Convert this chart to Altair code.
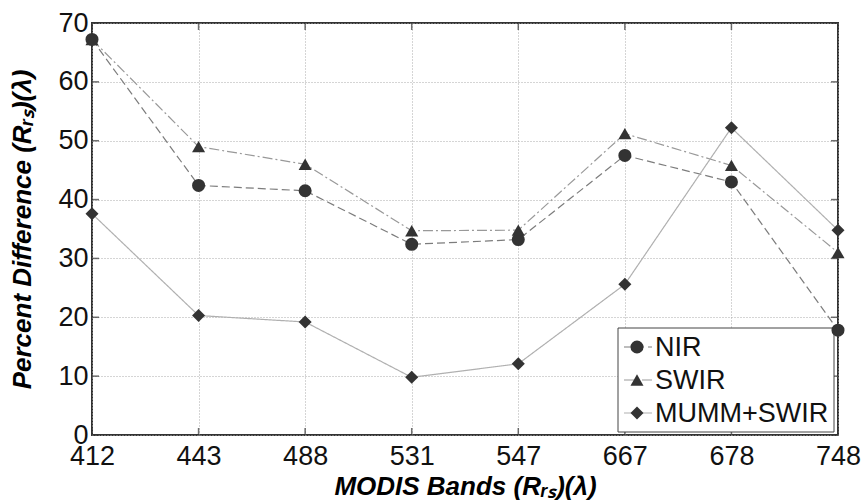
import altair as alt
import pandas as pd

bands = ["412", "443", "488", "531", "547", "667", "678", "748"]
nir = [67.2, 42.4, 41.5, 32.4, 33.2, 47.5, 43.0, 17.8]
swir = [67.2, 49.0, 46.0, 34.7, 34.8, 51.2, 45.8, 31.0]
mumm = [37.6, 20.3, 19.2, 9.8, 12.1, 25.6, 52.2, 34.8]
series_names = ["NIR", "SWIR", "MUMM+SWIR"]
y_ticks = [0, 10, 20, 30, 40, 50, 60, 70]

line_colors = ["#7c7c7c", "#999999", "#b0b0b0"]
line_dashes = [[8, 4], [10, 3, 2, 3], [1, 0]]
shapes = ["circle", "triangle-up", "diamond"]

rows = []
for name, vals in zip(series_names, [nir, swir, mumm]):
    for b, v in zip(bands, vals):
        rows.append({"band": b, "value": v, "series": name})
df = pd.DataFrame(rows)

FONT = "Liberation Sans"
W, H = 746, 412

x_enc = alt.X(
    "band:O",
    sort=bands,
    scale=alt.Scale(type="point", padding=0, domain=bands),
    axis=alt.Axis(
        title="MODIS Bands (Rᵣₛ)(λ)",
        labelAngle=0,
        labelFont=FONT,
        labelFontSize=27,
        labelColor="#111",
        labelPadding=8,
        ticks=False,
        domain=False,
        grid=True,
        gridColor="#aaa",
        gridDash=[1, 2],
        gridWidth=1,
        titleFont=FONT,
        titleFontSize=26,
        titleFontWeight="bold",
        titleFontStyle="italic",
        titleColor="#000",
        titlePadding=4,
    ),
)
y_enc = alt.Y(
    "value:Q",
    scale=alt.Scale(domain=[0, 70], nice=False),
    axis=alt.Axis(
        title="Percent Difference (Rᵣₛ)(λ)",
        values=y_ticks,
        labelFont=FONT,
        labelFontSize=27,
        labelColor="#111",
        labelPadding=4,
        ticks=False,
        domain=False,
        grid=True,
        gridColor="#aaa",
        gridDash=[1, 2],
        gridWidth=1,
        titleFont=FONT,
        titleFontSize=26,
        titleFontWeight="bold",
        titleFontStyle="italic",
        titleColor="#000",
        titlePadding=22,
    ),
)

lines = (
    alt.Chart(df)
    .transform_calculate(line_series="datum.series")
    .mark_line(strokeWidth=1.2)
    .encode(
        x=x_enc,
        y=y_enc,
        color=alt.Color(
            "line_series:N",
            scale=alt.Scale(domain=series_names, range=line_colors),
            legend=None,
        ),
        strokeDash=alt.StrokeDash(
            "line_series:N",
            scale=alt.Scale(domain=series_names, range=line_dashes),
            legend=None,
        ),
    )
)

points = alt.Chart(df).mark_point(filled=True, color="#333", opacity=1, size=170).encode(
    x=alt.X("band:O", sort=bands),
    y="value:Q",
    shape=alt.Shape(
        "series:N",
        scale=alt.Scale(domain=series_names, range=shapes),
        legend=None,
    ),
)

xt = pd.DataFrame({"band": bands})
yt = pd.DataFrame({"value": y_ticks})

tick_bottom = alt.Chart(xt).mark_tick(orient="vertical", size=7, thickness=1.5, color="#333", yOffset=-3.5).encode(
    x=alt.X("band:O", sort=bands), y=alt.datum(0)
)
tick_top = alt.Chart(xt).mark_tick(orient="vertical", size=7, thickness=1.5, color="#333", yOffset=3.5).encode(
    x=alt.X("band:O", sort=bands), y=alt.datum(70)
)
tick_left = alt.Chart(yt).mark_tick(orient="horizontal", size=7, thickness=1.5, color="#333", xOffset=3.5).encode(
    y="value:Q", x=alt.datum("412")
)
tick_right = alt.Chart(yt).mark_tick(orient="horizontal", size=7, thickness=1.5, color="#333", xOffset=-3.5).encode(
    y="value:Q", x=alt.datum("748")
)

# legend (drawn as layers, positioned in pixels inside the plot area)
leg_df = pd.DataFrame({"series": series_names})
legend_layers = [
    alt.Chart(leg_df.head(1)).mark_rect(fill="white", stroke="#444", strokeWidth=1).encode(
        x=alt.value(526), x2=alt.value(742), y=alt.value(305), y2=alt.value(409)
    )
]
for i, name in enumerate(series_names):
    ypix = 324 + 33 * i
    one = pd.DataFrame({"series": [name]})
    legend_layers.append(
        alt.Chart(one).mark_rule(color=line_colors[i], strokeDash=line_dashes[i], strokeWidth=1.2).encode(
            x=alt.value(532), x2=alt.value(560), y=alt.value(ypix)
        )
    )
    legend_layers.append(
        alt.Chart(one).mark_point(shape=shapes[i], filled=True, color="#333", opacity=1, size=170).encode(
            x=alt.value(545), y=alt.value(ypix)
        )
    )
    legend_layers.append(
        alt.Chart(one).mark_text(
            align="left", baseline="middle", font=FONT, fontSize=27, color="#111"
        ).encode(x=alt.value(563), y=alt.value(ypix + 1), text="series:N")
    )

chart = (
    alt.layer(lines, tick_bottom, tick_top, tick_left, tick_right, *legend_layers, points)
    .properties(
        width=W,
        height=H,
        autosize=alt.AutoSizeParams(type="none"),
        padding={"left": 92, "top": 23, "right": 26, "bottom": 65},
        background="white",
    )
    .configure_view(stroke="#333", strokeWidth=2)
)

chart.save("out.html", embed_options={"renderer": "svg", "actions": False})
